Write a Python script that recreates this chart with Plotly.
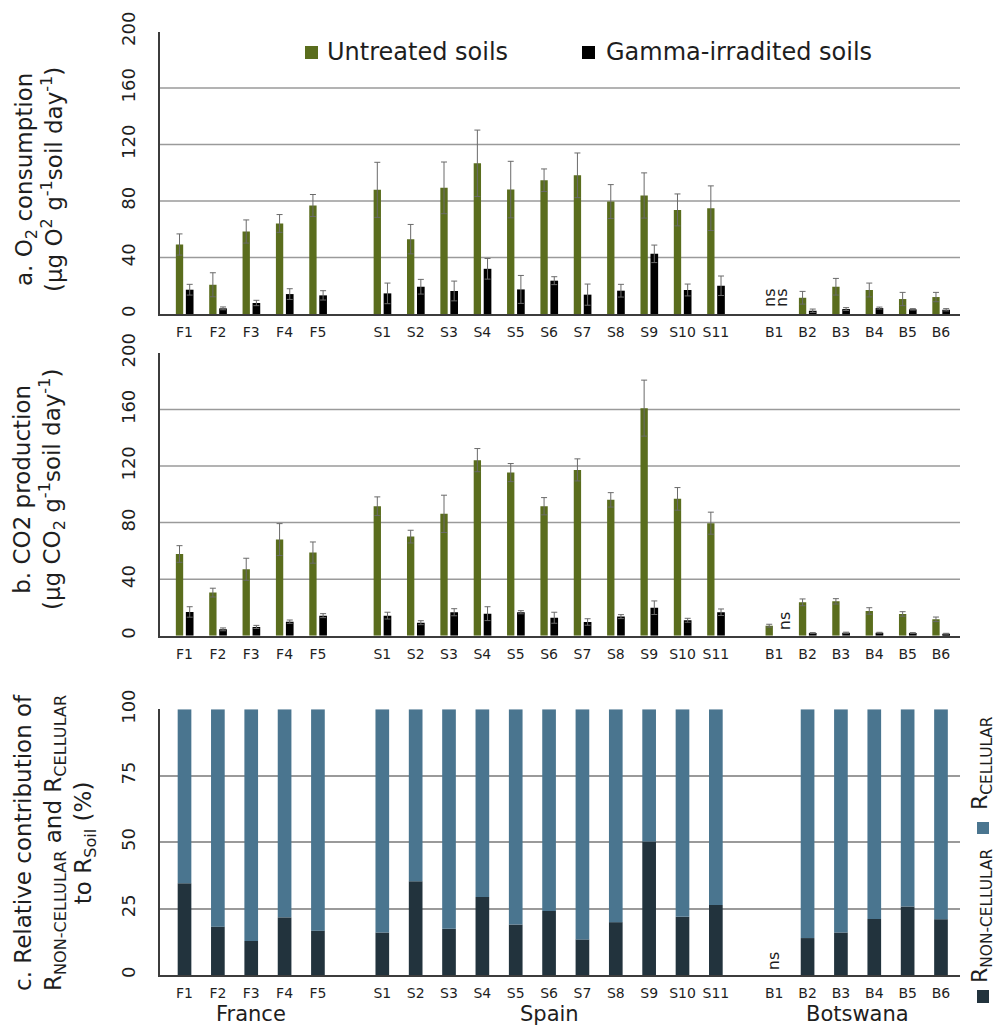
import plotly.graph_objects as go

# ---------------- data ----------------
france = ["F1", "F2", "F3", "F4", "F5"]
spain = ["S1", "S2", "S3", "S4", "S5", "S6", "S7", "S8", "S9", "S10", "S11"]
botswana = ["B1", "B2", "B3", "B4", "B5", "B6"]
group_names = ["France", "Spain", "Botswana"]

o2_untreated = [49.2, 20.7, 58.4, 64.1, 76.8,
                87.9, 53.0, 89.3, 106.7, 88.1, 94.7, 98.2, 79.6, 83.9, 73.7, 74.9,
                None, 11.5, 19.3, 17.0, 10.6, 12.0]
o2_untreated_err = [7.5, 8.5, 8.2, 6.3, 7.8,
                    19.5, 10.4, 18.3, 23.5, 20.0, 8.0, 15.8, 12.0, 16.0, 11.3, 15.8,
                    None, 4.5, 5.9, 4.9, 4.7, 3.3]
o2_irradiated = [17.2, 4.0, 7.8, 14.1, 13.2,
                 14.6, 19.3, 16.3, 32.0, 17.4, 23.6, 13.7, 16.5, 42.6, 17.0, 20.0,
                 None, 2.3, 3.5, 4.2, 3.3, 3.0]
o2_irradiated_err = [3.8, 1.0, 1.9, 3.8, 3.3,
                     7.3, 5.2, 7.0, 7.3, 9.9, 2.8, 7.5, 4.5, 6.2, 4.2, 6.9,
                     None, 1.2, 1.0, 0.7, 0.5, 0.8]

co2_untreated = [57.8, 30.5, 47.0, 68.0, 58.8,
                 91.6, 70.1, 86.2, 124.2, 115.4, 91.6, 117.3, 96.1, 161.0, 96.8, 79.6,
                 7.1, 23.6, 24.3, 17.5, 15.4, 11.6]
co2_untreated_err = [5.9, 3.1, 7.8, 11.3, 7.5,
                     6.6, 4.5, 13.2, 8.2, 6.4, 6.1, 7.8, 5.1, 19.8, 8.0, 7.8,
                     1.0, 2.4, 1.9, 2.3, 1.6, 1.6]
co2_irradiated = [16.8, 4.5, 6.2, 9.9, 14.2,
                  14.2, 9.2, 16.6, 15.6, 16.6, 12.7, 9.7, 13.5, 19.8, 10.9, 16.6,
                  None, 1.9, 2.1, 2.1, 1.9, 1.4]
co2_irradiated_err = [3.7, 1.0, 1.1, 1.2, 1.4,
                      2.4, 1.4, 2.5, 4.9, 1.1, 3.9, 2.3, 1.4, 4.8, 1.4, 2.3,
                      None, 0.3, 0.4, 0.3, 0.3, 0.3]

r_noncellular = [34.5, 18.2, 12.8, 21.7, 16.7,
                 16.0, 35.3, 17.4, 29.4, 19.0, 24.1, 13.4, 19.9, 50.2, 21.9, 26.3,
                 None, 13.9, 16.0, 21.1, 25.8, 21.0]
r_cellular = [65.5, 81.8, 87.2, 78.3, 83.3,
              84.0, 64.7, 82.6, 70.6, 81.0, 75.9, 86.6, 80.1, 49.8, 78.1, 73.7,
              None, 86.1, 84.0, 78.9, 74.2, 79.0]

y_ticks_resp = [0, 40, 80, 120, 160, 200]
y_ticks_pct = [0, 25, 50, 75, 100]

# ---------------- layout helpers ----------------
W, H = 995, 1025
FONT = "DejaVu Sans"
GREEN = "#5a6d1d"
BLACK = "#000000"
BLUE = "#4a758f"
DARK = "#22333d"
GRID = "#9a9a9a"
AXIS = "#3c3c3c"
TXT = "#1e1e1e"


def px(x):
    return x / W


def py(y):
    return 1 - y / H


groups = [france, spain, botswana]
group_start = [0.0, 5.93, 17.68]
sites, pos, group_center = [], [], []
for g, start in zip(groups, group_start):
    p = [start + i for i in range(len(g))]
    sites += g
    pos += p
    group_center.append(sum(p) / len(p))

b1 = pos[sites.index("B1")]

fig = go.Figure()


def resp_bars(yu, eu, yi, ei, xa, ya):
    err_style = dict(type="data", symmetric=True, color="#6a6a6a", thickness=1, width=3)
    fig.add_trace(go.Bar(x=pos, y=yu, error_y=dict(array=eu, **err_style),
                         marker=dict(color=GREEN, line=dict(width=0)),
                         width=0.22, offset=-0.26, name="Untreated soils",
                         xaxis=xa, yaxis=ya, showlegend=False))
    fig.add_trace(go.Bar(x=pos, y=yi, error_y=dict(array=ei, **err_style),
                         marker=dict(color=BLACK, line=dict(width=0)),
                         width=0.23, offset=0.04, name="Gamma-irradited soils",
                         xaxis=xa, yaxis=ya, showlegend=False))


resp_bars(o2_untreated, o2_untreated_err, o2_irradiated, o2_irradiated_err, "x", "y")
resp_bars(co2_untreated, co2_untreated_err, co2_irradiated, co2_irradiated_err, "x2", "y2")

fig.add_trace(go.Bar(x=pos, y=r_noncellular, width=0.41,
                     marker=dict(color=DARK, line=dict(width=0)),
                     name="R NON-CELLULAR", xaxis="x3", yaxis="y3", showlegend=False))
fig.add_trace(go.Bar(x=pos, y=r_cellular, base=r_noncellular, width=0.41,
                     marker=dict(color=BLUE, line=dict(width=0)),
                     name="R CELLULAR", xaxis="x3", yaxis="y3", showlegend=False))

xdom = [px(160), px(960)]
xrange = [-0.735, 23.25]
xcommon = dict(domain=xdom, range=xrange, tickmode="array", tickvals=pos, ticktext=sites,
               showline=True, linecolor=AXIS, linewidth=2, showgrid=False, zeroline=False,
               ticks="", tickfont=dict(family=FONT, size=14, color=TXT),
               ticklabelstandoff=4, automargin=False)
ycommon = dict(showline=True, linecolor=AXIS, linewidth=2, zeroline=False, ticks="",
               tickangle=-90, tickfont=dict(family=FONT, size=18, color=TXT),
               ticklabelstandoff=16, automargin=False)

fig.update_layout(
    width=W, height=H,
    margin=dict(l=0, r=0, t=0, b=0, pad=0, autoexpand=False),
    paper_bgcolor="white", plot_bgcolor="white",
    barmode="overlay",
    showlegend=False,
    font=dict(family=FONT, color=TXT),
    xaxis=dict(anchor="y", **xcommon),
    xaxis2=dict(anchor="y2", **xcommon),
    xaxis3=dict(anchor="y3", **xcommon),
    yaxis=dict(domain=[py(314), py(31.5)], range=[0, 200], tickvals=y_ticks_resp,
               showgrid=False, anchor="x", **ycommon),
    yaxis2=dict(domain=[py(635.7), py(353)], range=[0, 200], tickvals=y_ticks_resp,
                showgrid=False, anchor="x2", **ycommon),
    yaxis3=dict(domain=[py(975), py(709.3)], range=[0, 100], tickvals=y_ticks_pct,
                showgrid=True, gridcolor=GRID, gridwidth=1.5, anchor="x3", **ycommon),
)

# horizontal gridlines for panels a and b (no line at the top value)
shapes = []
for yref, xref in (("y", "x domain"), ("y2", "x2 domain")):
    for v in y_ticks_resp[1:-1]:
        shapes.append(dict(type="line", xref=xref, yref=yref, x0=0, x1=1, y0=v, y1=v,
                           line=dict(color=GRID, width=1.5), layer="below"))

# legend squares (panel a, top) and panel c (right)
sq = 13
shapes.append(dict(type="rect", xref="paper", yref="paper", x0=px(305), x1=px(305 + sq),
                   y0=py(59), y1=py(46), fillcolor=GREEN, line=dict(width=0)))
shapes.append(dict(type="rect", xref="paper", yref="paper", x0=px(582), x1=px(582 + sq),
                   y0=py(59), y1=py(46), fillcolor=BLACK, line=dict(width=0)))
shapes.append(dict(type="rect", xref="paper", yref="paper", x0=px(977), x1=px(989),
                   y0=py(1003), y1=py(990), fillcolor=DARK, line=dict(width=0)))
shapes.append(dict(type="rect", xref="paper", yref="paper", x0=px(977), x1=px(989),
                   y0=py(834), y1=py(822), fillcolor=BLUE, line=dict(width=0)))
fig.update_layout(shapes=shapes)

ann = []
# legend texts
ann.append(dict(text="Untreated soils", xref="paper", yref="paper", x=px(325), y=py(52),
                xanchor="left", yanchor="middle", showarrow=False,
                font=dict(family=FONT, size=24, color=TXT)))
ann.append(dict(text="Gamma-irradited soils", xref="paper", yref="paper", x=px(604), y=py(52),
                xanchor="left", yanchor="middle", showarrow=False,
                font=dict(family=FONT, size=24, color=TXT)))
ann.append(dict(text="R<sub>NON-CELLULAR</sub>", xref="paper", yref="paper", x=px(981), y=py(916),
                xanchor="center", yanchor="middle", textangle=-90, showarrow=False,
                font=dict(family=FONT, size=22, color=TXT)))
ann.append(dict(text="R<sub>CELLULAR</sub>", xref="paper", yref="paper", x=px(981), y=py(763),
                xanchor="center", yanchor="middle", textangle=-90, showarrow=False,
                font=dict(family=FONT, size=22, color=TXT)))

# y axis titles
ann.append(dict(text="a. O<sub>2</sub> consumption<br>(μg O<sup>2</sup> g<sup>-1</sup>soil day<sup>-1</sup>)",
                xref="paper", yref="paper", x=px(39), y=py(180), xanchor="center", yanchor="middle",
                textangle=-90, showarrow=False, font=dict(family=FONT, size=23, color=TXT)))
ann.append(dict(text="b. CO2 production<br>(μg CO<sub>2</sub> g<sup>-1</sup>soil day<sup>-1</sup>)",
                xref="paper", yref="paper", x=px(39), y=py(490), xanchor="center", yanchor="middle",
                textangle=-90, showarrow=False, font=dict(family=FONT, size=23, color=TXT)))
ann.append(dict(text="c. Relative contribution of<br>R<sub>NON-CELLULAR</sub> and R<sub>CELLULAR</sub><br>to R<sub>Soil</sub> (%)",
                xref="paper", yref="paper", x=px(55), y=py(843), xanchor="center", yanchor="middle",
                textangle=-90, showarrow=False, font=dict(family=FONT, size=23, color=TXT)))

# group labels
for name, c in zip(group_names, group_center):
    ann.append(dict(text=name, xref="x3", yref="paper", x=c, y=py(1014), xanchor="center",
                    yanchor="middle", showarrow=False, font=dict(family=FONT, size=21, color=TXT)))

# "ns" marks at B1
ns_font = dict(family=FONT, size=16, color=TXT)
for dx in (-0.16, 0.2):
    ann.append(dict(text="ns", xref="x", yref="y", x=b1 + dx, y=11.3, textangle=-90,
                    showarrow=False, font=ns_font))
ann.append(dict(text="ns", xref="x2", yref="y2", x=b1 + 0.3, y=10.4, textangle=-90,
                showarrow=False, font=ns_font))
ann.append(dict(text="ns", xref="x3", yref="y3", x=b1, y=5.3, textangle=-90,
                showarrow=False, font=ns_font))

fig.update_layout(annotations=ann)

fig.write_html("out.html", config={"displayModeBar": False},
               post_script="document.body.style.margin='0';")
